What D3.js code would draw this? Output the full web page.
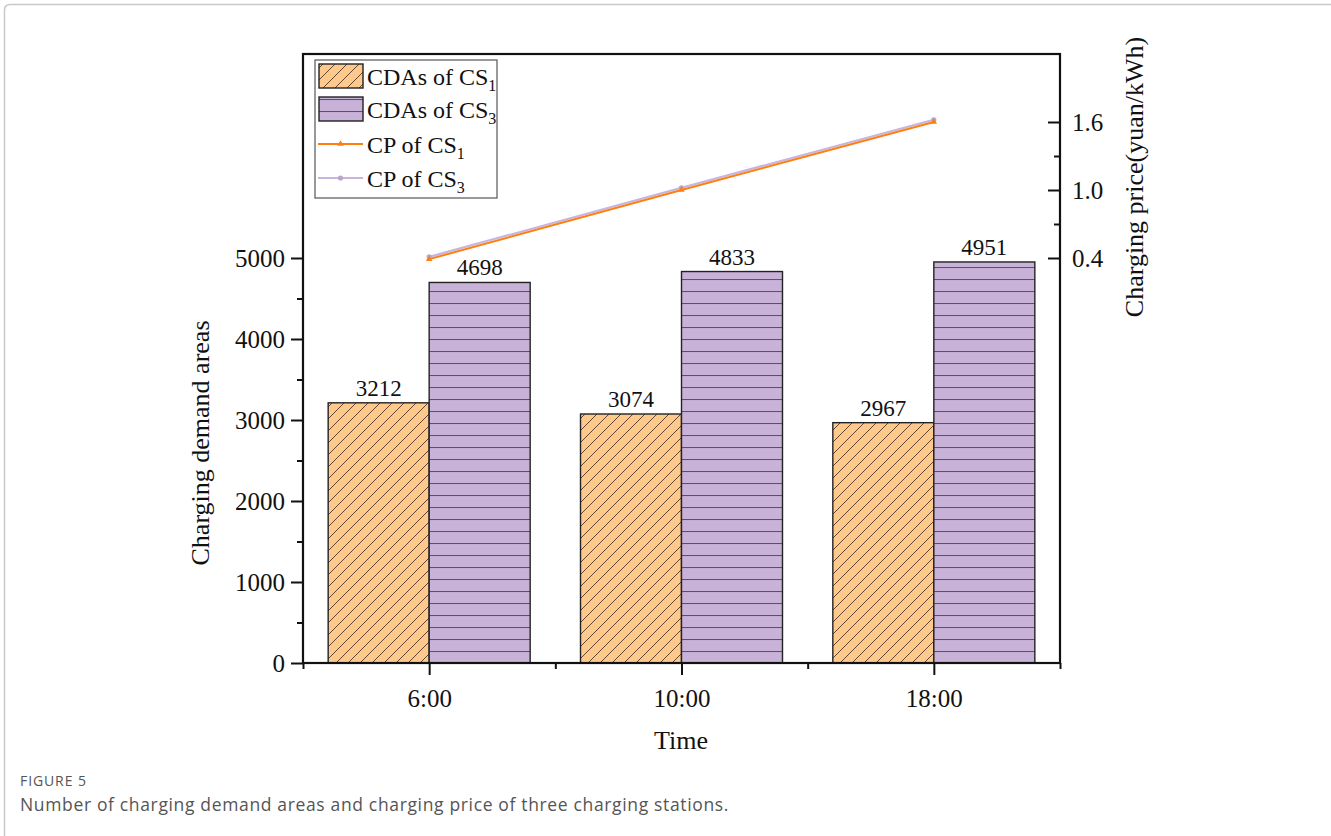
<!DOCTYPE html>
<html><head><meta charset="utf-8">
<script src="https://cdn.jsdelivr.net/npm/d3@7"></script>
<style>
html,body{margin:0;padding:0;background:#fff;}
svg{display:block;}
</style></head>
<body>
<svg id="chart" width="1331" height="836"></svg>
<script>
const categories = ["6:00", "10:00", "18:00"];
const cdaCS1 = [3212, 3074, 2967];
const cdaCS3 = [4698, 4833, 4951];
const cpCS1 = [0.39, 1.0, 1.6];
const cpCS3 = [0.41, 1.02, 1.62];
const leftTicks = [0, 1000, 2000, 3000, 4000, 5000];
const leftMinorTicks = [500, 1500, 2500, 3500, 4500];
const rightTicks = [0.4, 1.0, 1.6];
const rightMinorTicks = [0.7, 1.3];

const svg = d3.select("#chart");
const serif = "'Liberation Serif','Times New Roman',serif";
const L = 303, R = 1060, T = 54, B = 663;

// outer card border
svg.append("path").attr("d", `M4.5,836 L4.5,10 Q4.5,4.5 10,4.5 L1331,4.5`)
  .attr("fill", "none").attr("stroke", "#c8c8c8").attr("stroke-width", 1.5);

const defs = svg.append("defs");
const hatch = defs.append("pattern").attr("id", "hatch").attr("patternUnits", "userSpaceOnUse")
  .attr("width", 12).attr("height", 12).attr("y", B);
hatch.append("rect").attr("width", 12).attr("height", 12).attr("fill", "#fec98b");
hatch.append("path").attr("d", "M-3,3 L3,-3 M0,12 L12,0 M9,15 L15,9")
  .attr("stroke", "#4a3a2a").attr("stroke-width", 0.9);
const hlines = defs.append("pattern").attr("id", "hlines").attr("patternUnits", "userSpaceOnUse")
  .attr("width", 12).attr("height", 12).attr("y", B);
hlines.append("rect").attr("width", 12).attr("height", 12).attr("fill", "#c9b2d8");
hlines.append("line").attr("x1", 0).attr("x2", 12).attr("y1", 0.5).attr("y2", 0.5)
  .attr("stroke", "#5e5068").attr("stroke-width", 1.1);

const x = d3.scalePoint().domain(categories).range([L, R]).padding(0.5);
const sub = d3.scaleBand().domain(["cs1", "cs3"]).range([-101, 101]);
const y = d3.scaleLinear().domain([0, 7500]).range([B, T + 1.5]);
const y2 = d3.scaleLinear().domain([0.4, 1.6]).range([258, 122]);

// bars
const g = svg.append("g");
categories.forEach((c, i) => {
  const cx = x(c);
  [["cs1", cdaCS1[i], "url(#hatch)"], ["cs3", cdaCS3[i], "url(#hlines)"]].forEach(([k, v, f]) => {
    g.append("rect").attr("x", cx + sub(k)).attr("y", y(v)).attr("width", sub.bandwidth())
      .attr("height", B - y(v)).attr("fill", f).attr("stroke", "#222").attr("stroke-width", 1.4);
    g.append("text").attr("x", cx + sub(k) + sub.bandwidth() / 2).attr("y", y(v) - 7)
      .attr("text-anchor", "middle").attr("font-family", serif).attr("font-size", 23)
      .attr("fill", "#111").text(v);
  });
});

// lines
const line = d3.line().x((d, i) => x(categories[i])).y(d => y2(d));
svg.append("path").attr("d", line(cpCS3)).attr("fill", "none").attr("stroke", "#c9b4dd").attr("stroke-width", 2.2);
svg.append("path").attr("d", line(cpCS1)).attr("fill", "none").attr("stroke", "#ff7f0e").attr("stroke-width", 2);
cpCS3.forEach((d, i) => svg.append("circle").attr("cx", x(categories[i])).attr("cy", y2(d)).attr("r", 2.6).attr("fill", "#b9a4cf"));
const tri = d3.symbol().type(d3.symbolTriangle).size(18);
cpCS1.forEach((d, i) => svg.append("path").attr("d", tri()).attr("transform", `translate(${x(categories[i])},${y2(d)})`).attr("fill", "#ff7f0e"));

// axes
svg.append("g").attr("transform", `translate(${L},0)`)
  .call(d3.axisLeft(y).tickValues(leftTicks).tickSize(12).tickPadding(6).tickFormat(d3.format("d")));
svg.append("g").attr("transform", `translate(${L},0)`)
  .call(d3.axisLeft(y).tickValues(leftMinorTicks).tickSize(6).tickFormat(""));
svg.append("g").attr("transform", `translate(${R},0)`)
  .call(d3.axisLeft(y2).tickValues(rightTicks).tickSize(12).tickFormat(""));
svg.append("g").attr("transform", `translate(${R},0)`)
  .call(d3.axisLeft(y2).tickValues(rightMinorTicks).tickSize(6).tickFormat(""));
svg.append("g").attr("transform", `translate(${R},0)`)
  .call(d3.axisRight(y2).tickValues(rightTicks).tickSize(0).tickPadding(12).tickFormat(d3.format(".1f")));
svg.append("g").attr("transform", `translate(0,${B})`)
  .call(d3.axisBottom(x).tickSize(12).tickPadding(14));
const minorX = d3.scaleLinear().domain([0, 3]).range([L, R]);
svg.append("g").attr("transform", `translate(0,${B})`)
  .call(d3.axisBottom(minorX).tickValues([0, 1, 2, 3]).tickSize(6).tickFormat(""));

svg.selectAll(".domain").remove();
svg.selectAll(".tick line").attr("stroke", "#111").attr("stroke-width", 2);
svg.selectAll(".tick text").attr("font-family", serif).attr("font-size", 25).attr("fill", "#111");

// frame
svg.append("rect").attr("x", L).attr("y", T).attr("width", R - L).attr("height", B - T)
  .attr("fill", "none").attr("stroke", "#111").attr("stroke-width", 2.2);

// axis titles
svg.append("text").attr("transform", `translate(209,443) rotate(-90)`).attr("text-anchor", "middle")
  .attr("font-family", serif).attr("font-size", 26).attr("fill", "#111").text("Charging demand areas");
svg.append("text").attr("transform", `translate(1143,177) rotate(-90)`).attr("text-anchor", "middle")
  .attr("font-family", serif).attr("font-size", 26).attr("fill", "#111").text("Charging price(yuan/kWh)");
svg.append("text").attr("x", 681).attr("y", 749).attr("text-anchor", "middle")
  .attr("font-family", serif).attr("font-size", 26).attr("fill", "#111").text("Time");

// legend
const lg = svg.append("g");
lg.append("rect").attr("x", 315).attr("y", 60).attr("width", 182).attr("height", 138)
  .attr("fill", "#fff").attr("stroke", "#555").attr("stroke-width", 1.2);
const items = [
  {type: "bar", fill: "url(#hatch)", label: "CDAs of CS", s: "1", yc: 76},
  {type: "bar", fill: "url(#hlines)", label: "CDAs of CS", s: "3", yc: 109},
  {type: "line", color: "#ff7f0e", label: "CP of CS", s: "1", yc: 144},
  {type: "line", color: "#c9b4dd", label: "CP of CS", s: "3", yc: 178}
];
items.forEach((it, i) => {
  if (it.type === "bar") {
    lg.append("rect").attr("x", 319).attr("y", it.yc - 12).attr("width", 44).attr("height", 24)
      .attr("fill", it.fill).attr("stroke", "#222").attr("stroke-width", 1.4);
  } else {
    lg.append("line").attr("x1", 318).attr("x2", 363).attr("y1", it.yc).attr("y2", it.yc)
      .attr("stroke", it.color).attr("stroke-width", 2);
    if (i === 2) lg.append("path").attr("d", tri()).attr("transform", `translate(340.5,${it.yc})`).attr("fill", "#ff7f0e");
    else lg.append("circle").attr("cx", 340.5).attr("cy", it.yc).attr("r", 2.6).attr("fill", "#b9a4cf");
  }
  const t = lg.append("text").attr("x", 367).attr("y", it.yc + 9).attr("font-family", serif)
    .attr("font-size", 24).attr("fill", "#111");
  t.append("tspan").text(it.label);
  t.append("tspan").attr("dy", 6).attr("font-size", 16).text(it.s);
});

// caption
svg.append("text").attr("x", 20).attr("y", 786).attr("font-family", "'Open Sans',sans-serif")
  .attr("font-size", 14).attr("letter-spacing", 0.9).attr("fill", "#555").text("FIGURE 5");
svg.append("text").attr("x", 20).attr("y", 811).attr("font-family", "'Open Sans',sans-serif")
  .attr("font-size", 17.5).attr("letter-spacing", 0.65).attr("fill", "#555").text("Number of charging demand areas and charging price of three charging stations.");
</script>
</body></html>
